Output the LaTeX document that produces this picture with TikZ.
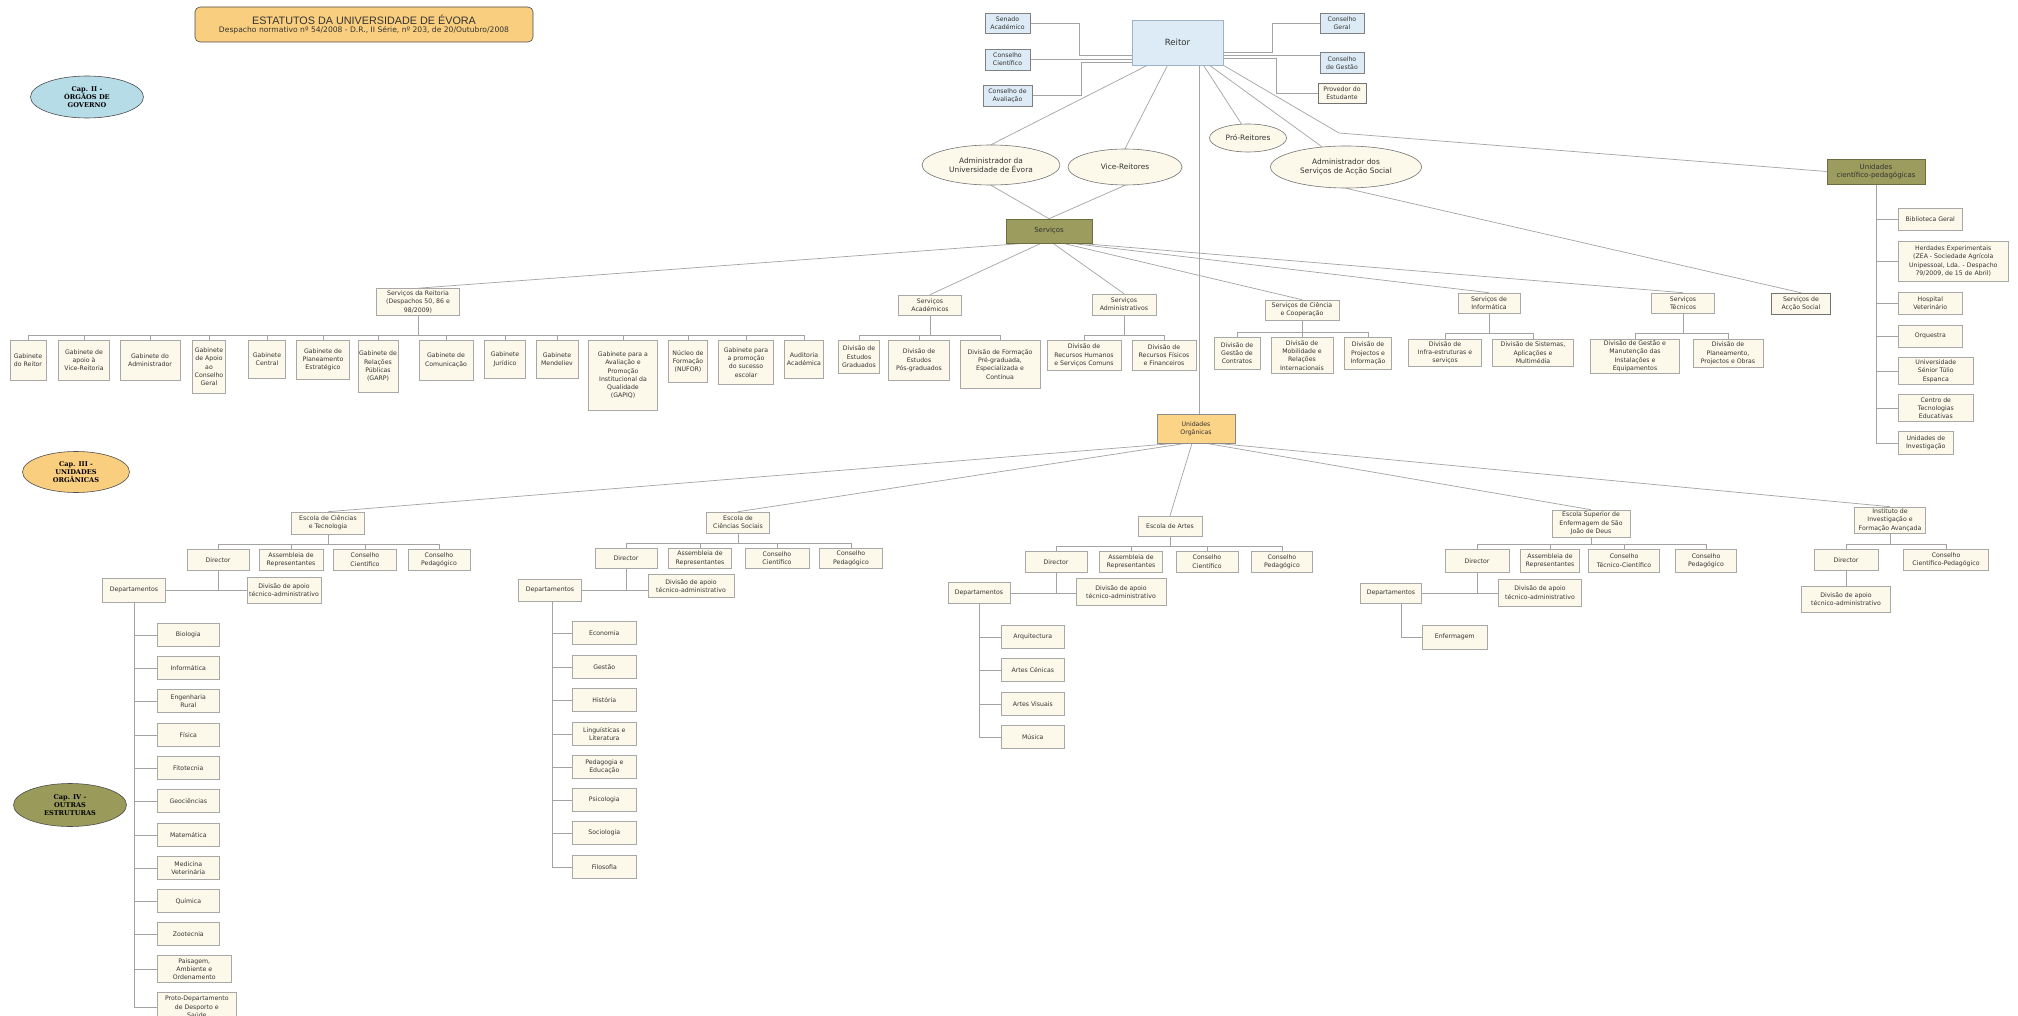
\documentclass[tikz,border=0pt]{standalone}
\usepackage{fontspec}
\setmainfont{DejaVu Sans}
\newfontfamily\titlefont{Liberation Sans}
\newfontfamily\capfont{DejaVu Serif}
\usetikzlibrary{shapes.geometric,shadows,backgrounds}

\definecolor{cream}{HTML}{FCF9EA}
\definecolor{boxline}{HTML}{A8A8A8}
\definecolor{blu}{HTML}{DCEBF5}
\definecolor{bluline}{HTML}{9DB3C8}
\definecolor{olive}{HTML}{9C9C5E}
\definecolor{gold}{HTML}{FBD488}
\definecolor{capblue}{HTML}{B6DCE8}
\definecolor{capgold}{HTML}{F9CF7F}
\definecolor{capolive}{HTML}{9A9B5B}
\definecolor{lncol}{HTML}{A3A3A3}
\definecolor{txt}{HTML}{333333}

\begin{document}
\begin{tikzpicture}[x=1pt,y=-1pt,font=\fontsize{6.2}{8.3}\selectfont,text=txt,
  ln/.style={draw=lncol,line width=0.7pt},
  box/.style={rectangle,draw=boxline,fill=cream,line width=0.6pt,inner sep=1pt,align=center,
    drop shadow={shadow xshift=0.8pt,shadow yshift=-0.8pt,fill=black!18,opacity=1}},
  sz/.style 2 args={minimum width=#1pt,minimum height=#2pt},
  council/.style={box,fill=blu,draw=black!50},
  dark/.style={box,draw=black!55,line width=0.5pt},
  olivebox/.style={box,fill=olive,draw=olive!70!black,font=\fontsize{7}{8.5}\selectfont},
  oval/.style={ellipse,draw=black!55,fill=cream,line width=0.6pt,inner sep=0pt,align=center,
    font=\fontsize{7.4}{9}\selectfont},
  capell/.style={ellipse,draw=black!70,line width=0.6pt,inner sep=0pt,align=center,text=black,
    font=\capfont\bfseries\fontsize{6.6}{8}\selectfont}]
  \useasboundingbox (0,0) rectangle (2018,1016);

  % titulo e capitulos
  \node[rectangle,rounded corners=5pt,draw=black!70,fill=capgold,line width=0.6pt,sz={338}{35},
    align=center,inner sep=0pt] (title) at (364,24.5)
    {{\titlefont\fontsize{10.8}{12.5}\selectfont ESTATUTOS DA UNIVERSIDADE DE ÉVORA}\\[-0.5pt]
     {\fontsize{7.6}{9}\selectfont Despacho normativo nº 54/2008 - D.R., II Série, nº 203, de 20/Outubro/2008}};
  \node[capell,fill=capblue,sz={113}{42}] (cap2) at (87,97) {Cap. II -\\ÓRGÃOS DE\\GOVERNO};
  \node[capell,fill=capgold,sz={107}{41}] (cap3) at (76,472) {Cap. III -\\UNIDADES\\ORGÂNICAS};
  \node[capell,fill=capolive,sz={113}{43}] (cap4) at (70,805) {Cap. IV -\\OUTRAS\\ESTRUTURAS};

  % orgaos de governo
  \node[box,fill=blu,draw=bluline,sz={91}{45},font=\fontsize{8.6}{10}\selectfont] (reitor) at (1177.5,42.5) {Reitor};
  \node[council,sz={45}{20}] (senado) at (1007.5,23) {Senado\\Académico};
  \node[council,sz={45}{21}] (ccient) at (1007.5,59.5) {Conselho\\Científico};
  \node[council,sz={49}{21}] (caval) at (1007.5,95.5) {Conselho de\\Avaliação};
  \node[council,sz={44}{20}] (cgeral) at (1342,23) {Conselho\\Geral};
  \node[council,sz={44}{21}] (cgestao) at (1342,63) {Conselho\\de Gestão};
  \node[dark,sz={48}{20}] (provedor) at (1342,93) {Provedor do\\Estudante};

  \node[oval,sz={138}{40}] (admuni) at (991,165) {Administrador da\\Universidade de Évora};
  \node[oval,sz={114}{36}] (vice) at (1125,167) {Vice-Reitores};
  \node[oval,sz={77}{28}] (pro) at (1248,138) {Pró-Reitores};
  \node[oval,sz={151}{42}] (admsas) at (1346,167) {Administrador dos\\Serviços de Acção Social};

  \node[olivebox,sz={86}{24}] (servicos) at (1049,231) {Serviços};
  \node[olivebox,sz={98}{25}] (ucp) at (1876,171.5) {Unidades\\científico-pedagógicas};

  % unidades cientifico-pedagogicas
  \node[box,sz={64}{22},anchor=west] (bib) at (1898,219) {Biblioteca Geral};
  \node[box,sz={110}{40},anchor=west] (herd) at (1898,261) {Herdades Experimentais\\(ZEA - Sociedade Agrícola\\Unipessoal, Lda. - Despacho\\79/2009, de 15 de Abril)};
  \node[box,sz={64}{22},anchor=west] (hosp) at (1898,303) {Hospital\\Veterinário};
  \node[box,sz={64}{22},anchor=west] (orq) at (1898,336) {Orquestra};
  \node[box,sz={75}{27},anchor=west] (usen) at (1898,371) {Universidade\\Sénior Túlio\\Espanca};
  \node[box,sz={75}{27},anchor=west] (cte) at (1898,408) {Centro de\\Tecnologias\\Educativas};
  \node[box,sz={55}{23},anchor=west] (uinv) at (1898,443) {Unidades de\\Investigação};

  % servicos
  \node[box,sz={83}{27}] (sreit) at (418,302) {Serviços da Reitoria\\(Despachos 50, 86 e\\98/2009)};
  \node[box,sz={36}{40},anchor=north] (g1) at (28,340) {Gabinete\\do Reitor};
  \node[box,sz={51}{40},anchor=north] (g2) at (84,340) {Gabinete de\\apoio à\\Vice-Reitoria};
  \node[box,sz={60}{40},anchor=north] (g3) at (150,340) {Gabinete do\\Administrador};
  \node[box,sz={33}{53},anchor=north] (g4) at (209,340) {Gabinete\\de Apoio\\ao\\Conselho\\Geral};
  \node[box,sz={37}{38},anchor=north] (g5) at (267,340) {Gabinete\\Central};
  \node[box,sz={53}{39},anchor=north] (g6) at (323,340) {Gabinete de\\Planeamento\\Estratégico};
  \node[box,sz={36}{52},anchor=north] (g7) at (378,340) {Gabinete de\\Relações\\Públicas\\(GARP)};
  \node[box,sz={54}{40},anchor=north] (g8) at (446,340) {Gabinete de\\Comunicação};
  \node[box,sz={41}{38},anchor=north] (g9) at (505,340) {Gabinete\\Jurídico};
  \node[box,sz={42}{38},anchor=north] (g10) at (557,340) {Gabinete\\Mendeliev};
  \node[box,sz={69}{70},anchor=north] (g11) at (623,340) {Gabinete para a\\Avaliação e\\Promoção\\Institucional da\\Qualidade\\(GAPIQ)};
  \node[box,sz={39}{42},anchor=north] (g12) at (688,340) {Núcleo de\\Formação\\(NUFOR)};
  \node[box,sz={55}{44},anchor=north] (g13) at (746,340) {Gabinete para\\a promoção\\do sucesso\\escolar};
  \node[box,sz={39}{38},anchor=north] (g14) at (804,340) {Auditoria\\Académica};

  \node[box,sz={63}{20}] (sacad) at (930,305) {Serviços\\Académicos};
  \node[box,sz={41}{33},anchor=north] (a1) at (859,340) {Divisão de\\Estudos\\Graduados};
  \node[box,sz={61}{40},anchor=north] (a2) at (919,340) {Divisão de\\Estudos\\Pós-graduados};
  \node[box,sz={80}{48},anchor=north] (a3) at (1000,340) {Divisão de Formação\\Pré-graduada,\\Especializada e\\Contínua};

  \node[box,sz={64}{21}] (sadm) at (1124,304.5) {Serviços\\Administrativos};
  \node[box,sz={74}{30},anchor=north] (d1) at (1084,340) {Divisão de\\Recursos Humanos\\e Serviços Comuns};
  \node[box,sz={64}{30},anchor=north] (d2) at (1164,340) {Divisão de\\Recursos Físicos\\e Financeiros};

  \node[box,sz={74}{20}] (scc) at (1302,310) {Serviços de Ciência\\e Cooperação};
  \node[box,sz={46}{32},anchor=north] (c1) at (1237,337) {Divisão de\\Gestão de\\Contratos};
  \node[box,sz={62}{36},anchor=north] (c2) at (1302,337) {Divisão de\\Mobilidade e\\Relações\\Internacionais};
  \node[box,sz={47}{32},anchor=north] (c3) at (1368,337) {Divisão de\\Projectos e\\Informação};

  \node[box,sz={62}{20}] (sinf) at (1489,303) {Serviços de\\Informática};
  \node[box,sz={73}{27},anchor=north] (i1) at (1445,339) {Divisão de\\Infra-estruturas e\\serviços};
  \node[box,sz={81}{27},anchor=north] (i2) at (1533,339) {Divisão de Sistemas,\\Aplicações e\\Multimédia};

  \node[box,sz={63}{20}] (stec) at (1683,303) {Serviços\\Técnicos};
  \node[box,sz={89}{34},anchor=north] (t1) at (1635,339) {Divisão de Gestão e\\Manutenção das\\Instalações e\\Equipamentos};
  \node[box,sz={70}{28},anchor=north] (t2) at (1728,339) {Divisão de\\Planeamento,\\Projectos e Obras};

  \node[dark,sz={59}{21}] (ssas) at (1801,303.5) {Serviços de\\Acção Social};

  % unidades organicas
  \node[box,fill=gold,draw=black!45,sz={78}{29}] (uo) at (1196,428.5) {Unidades\\Orgânicas};

  % Escola de Ciencias e Tecnologia
  \node[box,sz={73}{22}] (ect) at (328,523) {Escola de Ciências\\e Tecnologia};
  \node[box,sz={62}{21},anchor=north] (ectdir) at (218,549) {Director};
  \node[box,sz={64}{21},anchor=north] (ectass) at (291,549) {Assembleia de\\Representantes};
  \node[box,sz={63}{21},anchor=north] (ectcc) at (365,549) {Conselho\\Científico};
  \node[box,sz={62}{21},anchor=north] (ectcp) at (439,549) {Conselho\\Pedagógico};
  \node[box,sz={63}{24}] (ectdep) at (134,590) {Departamentos};
  \node[box,sz={74}{26}] (ectdiv) at (284,590) {Divisão de apoio\\técnico-administrativo};
  \foreach \t/\y [count=\i] in {Biologia/635,Informática/668,Engenharia\\Rural/701,Física/735,Fitotecnia/768,
      Geociências/801,Matemática/835,Medicina\\Veterinária/868,Química/901,Zootecnia/934}
    \node[box,sz={62}{23},anchor=west] (ectd\i) at (157,\y) {\t};
  \node[box,sz={74}{27},anchor=west] (ectd11) at (157,969) {Paisagem,\\Ambiente e\\Ordenamento};
  \node[box,sz={79}{30},anchor=west] (ectd12) at (157,1007) {Proto-Departamento\\de Desporto e\\Saúde};

  % Escola de Ciencias Sociais
  \node[box,sz={63}{21}] (ecs) at (738,522.5) {Escola de\\Ciências Sociais};
  \node[box,sz={62}{20},anchor=north] (ecsdir) at (626,548) {Director};
  \node[box,sz={63}{20},anchor=north] (ecsass) at (700,548) {Assembleia de\\Representantes};
  \node[box,sz={64}{20},anchor=north] (ecscc) at (777,548) {Conselho\\Científico};
  \node[box,sz={63}{20},anchor=north] (ecscp) at (851,548) {Conselho\\Pedagógico};
  \node[box,sz={63}{22}] (ecsdep) at (550,590) {Departamentos};
  \node[box,sz={86}{23}] (ecsdiv) at (691,586) {Divisão de apoio\\técnico-administrativo};
  \foreach \t/\y [count=\i] in {Economia/633,Gestão/667,História/700,Linguísticas e\\Literatura/734,
      Pedagogia e\\Educação/767,Psicologia/800,Sociologia/833,Filosofia/867}
    \node[box,sz={64}{23},anchor=west] (ecsd\i) at (572,\y) {\t};

  % Escola de Artes
  \node[box,sz={64}{20}] (art) at (1170,526) {Escola de Artes};
  \node[box,sz={62}{21},anchor=north] (artdir) at (1056,551) {Director};
  \node[box,sz={63}{21},anchor=north] (artass) at (1131,551) {Assembleia de\\Representantes};
  \node[box,sz={62}{21},anchor=north] (artcc) at (1207,551) {Conselho\\Científico};
  \node[box,sz={61}{21},anchor=north] (artcp) at (1282,551) {Conselho\\Pedagógico};
  \node[box,sz={62}{21}] (artdep) at (979,593) {Departamentos};
  \node[box,sz={90}{27}] (artdiv) at (1121,592) {Divisão de apoio\\técnico-administrativo};
  \foreach \t/\y [count=\i] in {Arquitectura/637,Artes Cénicas/670,Artes Visuais/704,Música/737}
    \node[box,sz={63}{23},anchor=west] (artd\i) at (1001,\y) {\t};

  % Escola Superior de Enfermagem
  \node[box,sz={78}{27}] (enf) at (1591,523.5) {Escola Superior de\\Enfermagem de São\\João de Deus};
  \node[box,sz={64}{23},anchor=north] (enfdir) at (1477,549) {Director};
  \node[box,sz={59}{23},anchor=north] (enfass) at (1550,549) {Assembleia de\\Representantes};
  \node[box,sz={71}{23},anchor=north] (enfctc) at (1624,549) {Conselho\\Técnico-Científico};
  \node[box,sz={61}{23},anchor=north] (enfcp) at (1706,549) {Conselho\\Pedagógico};
  \node[box,sz={61}{20}] (enfdep) at (1391,593) {Departamentos};
  \node[box,sz={83}{27}] (enfdiv) at (1540,592.5) {Divisão de apoio\\técnico-administrativo};
  \node[box,sz={65}{24},anchor=west] (enfd1) at (1422,637) {Enfermagem};

  % Instituto de Investigacao e Formacao Avancada
  \node[box,sz={71}{26}] (iifa) at (1890,520) {Instituto de\\Investigação e\\Formação Avançada};
  \node[box,sz={64}{21},anchor=north] (iifadir) at (1846,549) {Director};
  \node[box,sz={85}{21},anchor=north] (iifaccp) at (1946,549) {Conselho\\Científico-Pedagógico};
  \node[box,sz={89}{26},anchor=north] (iifadiv) at (1846,586) {Divisão de apoio\\técnico-administrativo};

  \begin{scope}[on background layer]
    \fill[white] (0,0) rectangle (2018,1016);
    % Reitor
    \draw[ln] (senado.east) -| (1079,55) -- ([yshift=-12.5pt]reitor.west);
    \draw[ln] (ccient.east) -- (ccient.east -| reitor.west);
    \draw[ln] (caval.east) -| (1081,62) -- ([yshift=-19.5pt]reitor.west);
    \draw[ln] (cgeral.west) -| (1272,52) -- ([yshift=-9.5pt]reitor.east);
    \draw[ln] ([yshift=-13pt]reitor.east) -- ([yshift=-13pt]reitor.east -| cgestao.west);
    \draw[ln] ([yshift=-16pt]reitor.east) -| (1276,93) -- (provedor.west);
    \draw[ln] ([xshift=-30pt]reitor.south) -- (admuni.north);
    \draw[ln] ([xshift=-10pt]reitor.south) -- (vice.north);
    \draw[ln] ([xshift=26pt]reitor.south) -- (pro.115);
    \draw[ln] ([xshift=32pt]reitor.south) -- (admsas.140);
    \draw[ln] (reitor.south east) -- (1339,133) -- (ucp.west);
    \draw[ln] ([xshift=21.5pt]reitor.south) -- ([xshift=21.5pt]reitor.south |- uo.north);
    \draw[ln] (admuni.south) -- (servicos.north);
    \draw[ln] (vice.south) -- (servicos.north);
    \draw[ln] (admsas.south) -- (ssas.north);
    % unidades cientifico-pedagogicas
    \draw[ln] (ucp.south) -- (ucp.south |- uinv.west);
    \foreach \n in {bib,herd,hosp,orq,usen,cte,uinv}
      \draw[ln] (ucp.south |- \n.west) -- (\n.west);
    % servicos
    \draw[ln] ([xshift=-24pt]servicos.south) -- (sreit.north);
    \draw[ln] ([xshift=-8pt]servicos.south) -- (sacad.north);
    \draw[ln] ([xshift=4pt]servicos.south) -- (sadm.north);
    \draw[ln] ([xshift=14pt]servicos.south) -- (scc.north);
    \draw[ln] ([xshift=22pt]servicos.south) -- (sinf.north);
    \draw[ln] ([xshift=30pt]servicos.south) -- (stec.north);
    \draw[ln] (sreit.south) -- ([yshift=5pt]sreit.south |- g1.north);
    \draw[ln] (g1.north) -- ++(0,-5) -| (g14.north);
    \foreach \i in {2,...,13}
      \draw[ln] (g\i.north) -- ++(0,-5);
    \draw[ln] (sacad.south) -- ([yshift=5pt]sacad.south |- a1.north);
    \draw[ln] (a1.north) -- ++(0,-5) -| (a3.north);
    \draw[ln] (a2.north) -- ++(0,-5);
    \draw[ln] (sadm.south) -- ([yshift=5pt]sadm.south |- d1.north);
    \draw[ln] (d1.north) -- ++(0,-5) -| (d2.north);
    \draw[ln] (scc.south) -- ([yshift=5pt]scc.south |- c1.north);
    \draw[ln] (c1.north) -- ++(0,-5) -| (c3.north);
    \draw[ln] (c2.north) -- ++(0,-5);
    \draw[ln] (sinf.south) -- ([yshift=6pt]sinf.south |- i1.north);
    \draw[ln] (i1.north) -- ++(0,-6) -| (i2.north);
    \draw[ln] (stec.south) -- ([yshift=6pt]stec.south |- t1.north);
    \draw[ln] (t1.north) -- ++(0,-6) -| (t2.north);
    % unidades organicas
    \draw[ln] ([xshift=-20pt]uo.south) -- (ect.north);
    \draw[ln] ([xshift=-10pt]uo.south) -- (ecs.north);
    \draw[ln] ([xshift=-4pt]uo.south) -- (art.north);
    \draw[ln] ([xshift=10pt]uo.south) -- (enf.north);
    \draw[ln] ([xshift=20pt]uo.south) -- (iifa.north);
    % escolas
    \foreach \s/\a/\z/\m in {ect/ectdir/ectcp/{ectass,ectcc},ecs/ecsdir/ecscp/{ecsass,ecscc},
        art/artdir/artcp/{artass,artcc},enf/enfdir/enfcp/{enfass,enfctc}} {
      \draw[ln] (\s.south) -- ([yshift=5pt]\s.south |- \a.north);
      \draw[ln] (\a.north) -- ++(0,-5) -| (\z.north);
      \foreach \n in \m
        \draw[ln] (\n.north) -- ++(0,-5);
      \draw[ln] (\a.south) -- (\a.south |- \s dep.east);
      \draw[ln] (\s dep.east) -- (\s dep.east -| \s div.west);
    }
    \draw[ln] (iifa.south) -- ([yshift=5pt]iifa.south |- iifadir.north);
    \draw[ln] (iifadir.north) -- ++(0,-5) -| (iifaccp.north);
    \draw[ln] (iifadir.south) -- (iifadiv.north);
    % departamentos
    \draw[ln] (ectdep.south) -- (ectdep.south |- ectd12.west);
    \foreach \i in {1,...,12}
      \draw[ln] (ectdep.south |- ectd\i.west) -- (ectd\i.west);
    \draw[ln] ([xshift=2pt]ecsdep.south) -- ([xshift=2pt]ecsdep.south |- ecsd8.west);
    \foreach \i in {1,...,8}
      \draw[ln] ([xshift=2pt]ecsdep.south |- ecsd\i.west) -- (ecsd\i.west);
    \draw[ln] (artdep.south) -- (artdep.south |- artd4.west);
    \foreach \i in {1,...,4}
      \draw[ln] (artdep.south |- artd\i.west) -- (artd\i.west);
    \draw[ln] ([xshift=10pt]enfdep.south) |- (enfd1.west);
  \end{scope}
\end{tikzpicture}
\end{document}
